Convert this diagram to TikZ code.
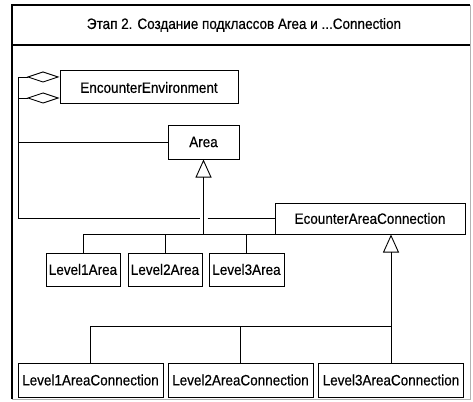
\documentclass[tikz,border=0pt]{standalone}
\usepackage{fontspec}
\setmainfont{Liberation Sans}[FakeStretch=0.9, FakeBold=0.4]
\usetikzlibrary{arrows.meta}
\begin{document}
\begin{tikzpicture}[x=1pt,y=-1pt,
  label font/.style={font=\fontsize{15}{18}\selectfont},
  cls/.style={draw, line width=1pt, inner sep=1pt, label font, minimum height=33pt},
  link/.style={line width=0.9pt},
  inherit/.style={link, -{Triangle[open, length=18pt, width=16pt]}},
  aggr/.style={link, {Diamond[open, length=33pt, width=11pt]}-},
]
\useasboundingbox (0,0) rectangle (473,401);
\fill[white] (0,0) rectangle (473,401);

% outer frame and title bar
\draw[line width=1.4pt] (470,5) -- (12,5) -- (12,399);
\draw[gray!60, line width=0.6pt] (470,5) -- (470,399) -- (12,399);
\draw[line width=1.2pt] (12,45) -- (470,45);
\node[label font] (title) at (244,25) {Этап 2. Создание подклассов Area и ...Connection};

% classes
\node[cls, minimum width=178pt] (env) at (149,87.5) {EncounterEnvironment};
\node[cls, minimum width=71pt, minimum height=34pt] (area) at (203.5,142) {Area};
\node[cls, minimum width=190pt, minimum height=31pt] (eac) at (370,218.5) {EcounterAreaConnection};

\node[cls, minimum width=74pt] (l1a) at (83,269.5) {Level1Area};
\node[cls, minimum width=74pt] (l2a) at (165,269.5) {Level2Area};
\node[cls, minimum width=75pt] (l3a) at (246.5,269.5) {Level3Area};

\node[cls, minimum width=145pt, minimum height=34pt] (l1c) at (90.5,380) {Level1AreaConnection};
\node[cls, minimum width=145pt, minimum height=34pt] (l2c) at (240.5,380) {Level2AreaConnection};
\node[cls, minimum width=145pt, minimum height=34pt] (l3c) at (391,380) {Level3AreaConnection};

% aggregations from EncounterEnvironment
\coordinate (trunk) at (18,77);
\coordinate (lowJoin) at (18,98);
\draw[aggr] (env.west |- trunk) -- (trunk) -- (trunk |- eac.west)
  -- ([xshift=-4pt]area.south |- eac.west);
\draw[link] ([xshift=4pt]area.south |- eac.west) -- (eac.west);
\draw[aggr] (env.west |- lowJoin) -- (lowJoin);
\draw[link] (area.west) -- (area.west -| trunk);

% Area subclasses
\draw[link] (l1a.north) |- (eac.south west);
\draw[link] (l2a.north) -- (l2a.north |- eac.south west);
\draw[link] (l3a.north) -- (l3a.north |- eac.south west);
\draw[inherit] (area.south |- eac.south west) -- (area.south);

% connection subclasses
\coordinate (busB) at (391,326);
\draw[link] (l1c.north) |- (busB);
\draw[link] (l2c.north) -- (l2c.north |- busB);
\draw[inherit] (l3c.north) -- (l3c.north |- eac.south);
\end{tikzpicture}
\end{document}
